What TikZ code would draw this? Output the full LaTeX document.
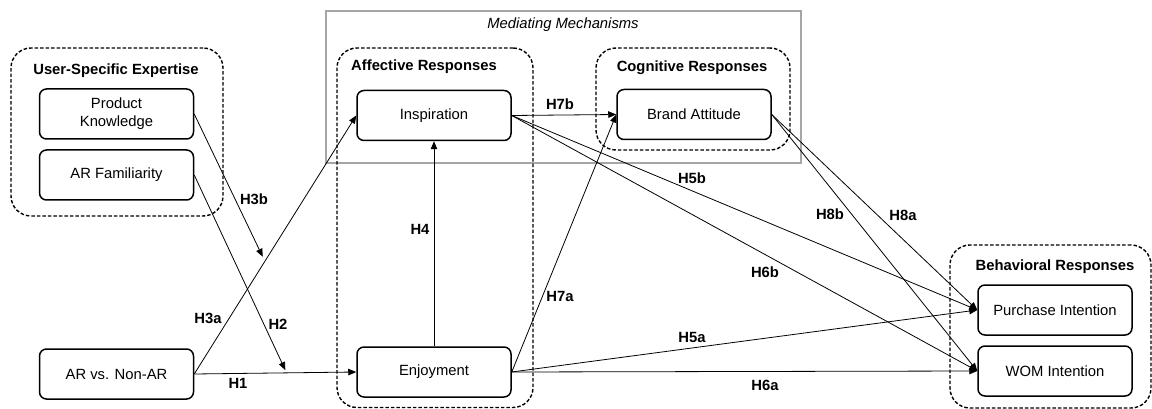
\documentclass[tikz,border=0pt]{standalone}
\usepackage{fontspec}
\setmainfont{Liberation Sans}
\usetikzlibrary{arrows.meta,calc}
\newdimen\unit
\tikzset{unit/.code={\unit=\dimexpr#1\relax}}
\tikzset{xy/.style={x={#1},y={-#1},unit={#1},font={\fontsize{14.8\unit}{17.8\unit}\selectfont},line width=1\unit}}
\tikzset{box/.style={draw,rounded corners=7\unit,line width=1.5\unit,minimum width=154\unit,minimum height=50\unit,align=center,fill=white,inner sep=0}}
\tikzset{group/.style={draw,dash pattern=on 3.5\unit off 2\unit,rounded corners=20\unit,line width=1.4\unit,inner sep=0}}
\tikzset{grouptitle/.style={font={\fontsize{14.8\unit}{17.8\unit}\selectfont\bfseries}}}
\tikzset{hyp/.style={font={\fontsize{14.8\unit}{17.8\unit}\selectfont\bfseries}}}
\tikzset{link/.style={draw,line width=.8pt,-{Triangle[length=8pt,width=6.5pt]}}}

\begin{document}
\begin{tikzpicture}[xy=1pt]%
    \path [use as bounding box] (0,0) rectangle (1152,409);
    % groups
    \path (563.5,87) node [draw,gray!70,line width=1.2\unit,minimum width=475\unit,minimum height=152\unit,inner sep=0] (mediating) {};
    \path (563,25) node [font={\fontsize{14.8\unit}{17.8\unit}\selectfont\itshape}] (medtitle) {Mediating Mechanisms};
    \path (117,132) node [group,minimum width=212\unit,minimum height=168\unit] (expertise) {};
    \path (435,227.75) node [group,minimum width=196\unit,minimum height=359.5\unit] (affective) {};
    \path (693,99) node [group,minimum width=194\unit,minimum height=102\unit] (cognitive) {};
    \path (1050.5,326.5) node [group,minimum width=201\unit,minimum height=163\unit] (behavioral) {};
    \path (116,71) node [grouptitle] (exptitle) {User-Specific Expertise};
    \path (424,67) node [grouptitle] (afftitle) {Affective Responses};
    \path (692,68) node [grouptitle] (cogtitle) {Cognitive Responses};
    \path (1055,267) node [grouptitle] (behtitle) {Behavioral Responses};
    % constructs
    \path (116.5,114) node [box] (knowledge) {Product\\Knowledge};
    \path (116.5,175) node [box] (familiarity) {AR Familiarity};
    \path (116.5,374) node [box] (ar) {AR vs. Non-AR};
    \path (434,115.5) node [box] (inspiration) {Inspiration};
    \path (434,372) node [box] (enjoyment) {Enjoyment};
    \path (694,114.5) node [box] (attitude) {Brand Attitude};
    \path (1055,310) node [box] (purchase) {Purchase Intention};
    \path (1055,371) node [box] (wom) {WOM Intention};
    % paths
    \path [link] (ar.east) -- (enjoyment.west);
    \path [link] (ar.east) -- (inspiration.west);
    \coordinate (onH1) at ($(ar.east)!.57!(enjoyment.west)$);
    \coordinate (onH3a) at ($(ar.east)!.436!(inspiration.west)$);
    \path [link,shorten >=3pt] (familiarity.east) -- (onH1);
    \path [link,shorten >=5pt] (knowledge.east) -- (onH3a);
    \path [link] (enjoyment.north) -- (inspiration.south);
    \path [link] (inspiration.east) -- (attitude.west);
    \path [link] (enjoyment.east) -- (attitude.west);
    \foreach \from in {inspiration,enjoyment,attitude}
    \foreach \to in {purchase,wom} {
        \path [link] (\from.east) -- (\to.west);
    }
    % labels
    \path (238,383) node [hyp] (h1) {H1};
    \path (278,324) node [hyp] (h2) {H2};
    \path (208,318) node [hyp] (h3a) {H3a};
    \path (254,199) node [hyp] (h3b) {H3b};
    \path (420,229) node [hyp] (h4) {H4};
    \path (692,337) node [hyp] (h5a) {H5a};
    \path (692,178) node [hyp] (h5b) {H5b};
    \path (765,385) node [hyp] (h6a) {H6a};
    \path (765,272) node [hyp] (h6b) {H6b};
    \path (560,296) node [hyp] (h7a) {H7a};
    \path (560,104) node [hyp] (h7b) {H7b};
    \path (903,215) node [hyp] (h8a) {H8a};
    \path (830,214) node [hyp] (h8b) {H8b};
\end{tikzpicture}
\end{document}
